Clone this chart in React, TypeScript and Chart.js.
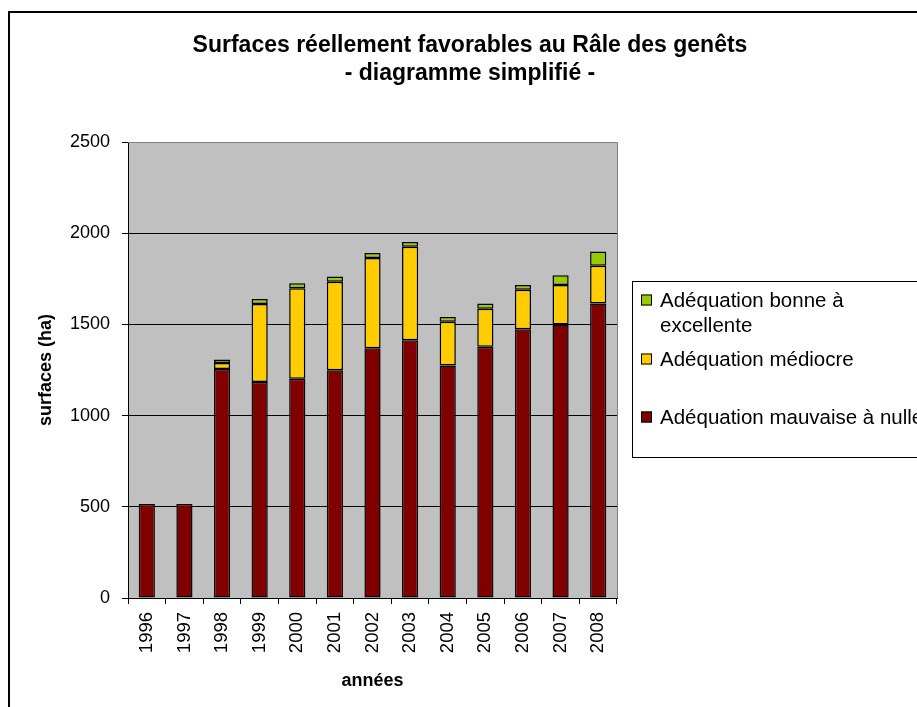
import React, { useEffect, useRef } from "react";
import { Chart, registerables } from "chart.js";

Chart.register(...registerables);

const years = ["1996", "1997", "1998", "1999", "2000", "2001", "2002", "2003", "2004", "2005", "2006", "2007", "2008"];
const mauvaise = [515, 515, 1255, 1184, 1202, 1248, 1369, 1413, 1274, 1378, 1473, 1500, 1614];
const mediocre = [null, null, 33, 428, 496, 486, 495, 513, 241, 208, 217, 216, 208];
const bonne = [null, null, 20, 27, 27, 28, 27, 26, 26, 28, 26, 53, 77];

const seriesNames = ["Adéquation mauvaise à nulle", "Adéquation médiocre", "Adéquation bonne à excellente"];
const legendLines = [["Adéquation bonne à", "excellente"], ["Adéquation médiocre"], ["Adéquation mauvaise à nulle"]];
const colors = ["#800000", "#FFCC00", "#99CC00"];
const titleLines = ["Surfaces réellement favorables au Râle des genêts", "- diagramme simplifié -"];
const yTitle = "surfaces (ha)";
const xTitle = "années";

const FONT = "'Liberation Sans', Arial, sans-serif";

const decorPlugin = {
  id: "decor",
  beforeDraw(chart: any) {
    const { ctx, chartArea } = chart;
    ctx.save();
    ctx.fillStyle = "#fff";
    ctx.fillRect(0, 0, chart.width, chart.height);
    ctx.strokeStyle = "#000";
    ctx.lineWidth = 2;
    ctx.strokeRect(9, 12, chart.width + 50, chart.height + 50);
    ctx.fillStyle = "#C0C0C0";
    ctx.fillRect(chartArea.left, chartArea.top, chartArea.right - chartArea.left, chartArea.bottom - chartArea.top);
    ctx.restore();
  },
  afterDraw(chart: any) {
    const { ctx, chartArea } = chart;
    ctx.save();
    // plot border (top/right)
    ctx.strokeStyle = "#808080";
    ctx.lineWidth = 1;
    ctx.beginPath();
    ctx.moveTo(chartArea.left, chartArea.top + 0.5);
    ctx.lineTo(chartArea.right + 0.5, chartArea.top + 0.5);
    ctx.lineTo(chartArea.right + 0.5, chartArea.bottom);
    ctx.stroke();

    // title
    ctx.fillStyle = "#000";
    ctx.font = `bold 23px ${FONT}`;
    ctx.textAlign = "center";
    ctx.textBaseline = "alphabetic";
    ctx.fillText(titleLines[0], 470, 52);
    ctx.fillText(titleLines[1], 470, 80);

    // legend
    ctx.strokeStyle = "#000";
    ctx.lineWidth = 1;
    ctx.strokeRect(632.5, 281.5, 400, 176);
    const ds = chart.data.datasets;
    const order = [2, 1, 0];
    const ys = [300, 359, 417];
    ctx.font = `20.5px ${FONT}`;
    ctx.textAlign = "left";
    ctx.textBaseline = "middle";
    order.forEach((di, i) => {
      const y = ys[i];
      ctx.fillStyle = ds[di].backgroundColor;
      ctx.fillRect(641, y - 5.5, 11, 11);
      ctx.strokeStyle = "#000";
      ctx.strokeRect(641.5, y - 5, 10, 10);
      ctx.fillStyle = "#000";
      legendLines[i].forEach((line, li) => {
        ctx.fillText(line, 660, y + 1 + li * 25);
      });
    });
    ctx.restore();
  },
};

export default function App() {
  const ref = useRef<HTMLCanvasElement | null>(null);

  useEffect(() => {
    if (!ref.current) return;
    const mk = (i: number, data: (number | null)[]) => ({
      label: seriesNames[i],
      data,
      backgroundColor: colors[i],
      borderColor: "#000",
      borderWidth: 1.5,
      borderSkipped: false,
      categoryPercentage: 1,
      barPercentage: 0.43,
    });
    const chart = new Chart(ref.current, {
      type: "bar",
      data: {
        labels: years,
        datasets: [mk(0, mauvaise), mk(1, mediocre), mk(2, bonne)],
      },
      options: {
        responsive: false,
        animation: false,
        devicePixelRatio: 1,
        layout: { padding: { top: 142, left: 0, right: 300, bottom: 0 } },
        plugins: {
          legend: { display: false },
          title: { display: false },
          tooltip: { enabled: false },
        },
        scales: {
          x: {
            stacked: true,
            afterFit: (s: any) => {
              s.height = 109;
            },
            grid: {
              display: true,
              drawOnChartArea: false,
              drawTicks: true,
              tickLength: 6,
              offset: true,
              color: "#000",
              tickColor: "#000",
            },
            border: { display: true, color: "#000", width: 1 },
            ticks: {
              autoSkip: false,
              minRotation: 90,
              maxRotation: 90,
              padding: 8,
              color: "#000",
              font: { family: FONT, size: 18.5 },
            },
            title: {
              display: true,
              text: xTitle,
              color: "#000",
              font: { family: FONT, size: 18, weight: "bold" },
              padding: { top: 0, bottom: 15 },
            },
          },
          y: {
            stacked: true,
            min: 0,
            max: 2500,
            afterFit: (s: any) => {
              s.width = 128;
            },
            grid: {
              color: (c: any) => (c.tick && c.tick.value === 2500 ? "rgba(0,0,0,0)" : "#000"),
              tickColor: "#000",
              tickLength: 6,
              drawTicks: true,
            },
            border: { display: true, color: "#000", width: 1 },
            ticks: {
              stepSize: 500,
              padding: 12,
              color: "#000",
              font: { family: FONT, size: 18 },
              callback: (v: any) => String(v),
            },
            title: {
              display: true,
              text: yTitle,
              color: "#000",
              font: { family: FONT, size: 18, weight: "bold" },
              padding: { top: 35, bottom: 0 },
            },
          },
        },
      },
      plugins: [decorPlugin],
    } as any);
    return () => chart.destroy();
  }, []);

  return (
    <div style={{ position: "fixed", left: 0, top: 0, width: 917, height: 707, overflow: "hidden", background: "#fff" }}>
      <canvas ref={ref} width={917} height={707} style={{ display: "block", width: 917, height: 707 }} />
    </div>
  );
}
